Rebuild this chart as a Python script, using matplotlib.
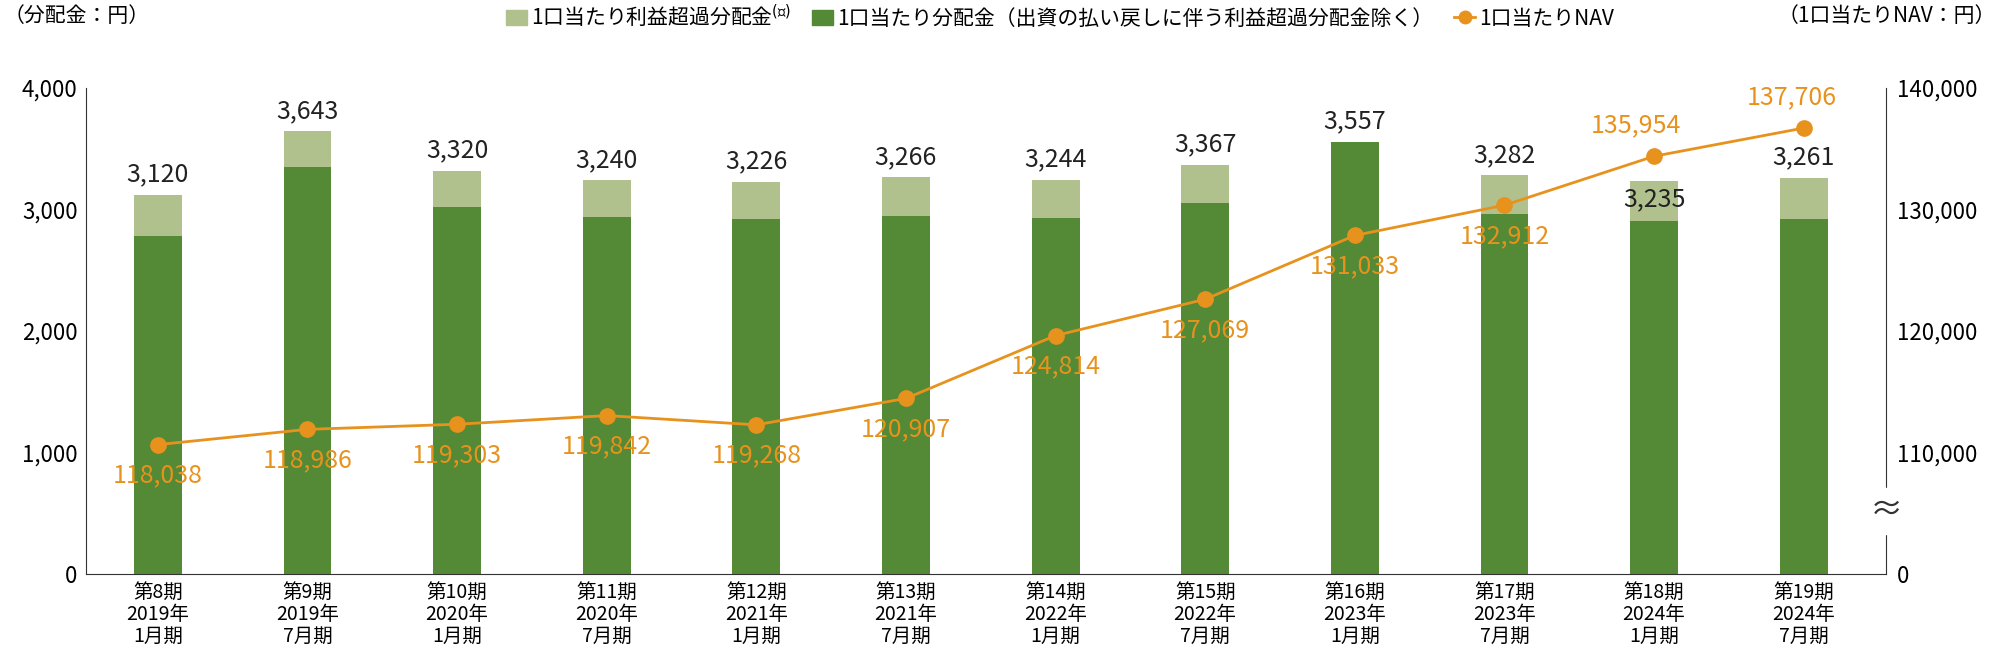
import matplotlib
matplotlib.use("Agg")
import matplotlib.pyplot as plt
from matplotlib.lines import Line2D
from matplotlib.patches import Patch

plt.rcParams["font.family"] = ["Noto Sans CJK JP"]

categories = ["第8期\n2019年\n1月期","第9期\n2019年\n7月期","第10期\n2020年\n1月期","第11期\n2020年\n7月期",
              "第12期\n2021年\n1月期","第13期\n2021年\n7月期","第14期\n2022年\n1月期","第15期\n2022年\n7月期",
              "第16期\n2023年\n1月期","第17期\n2023年\n7月期","第18期\n2024年\n1月期","第19期\n2024年\n7月期"]
total_dist = [3120,3643,3320,3240,3226,3266,3244,3367,3557,3282,3235,3261]
base_dist = [2782,3349,3024,2940,2919,2950,2929,3055,3557,2961,2908,2919]
nav = [118038,118986,119303,119842,119268,120907,124814,127069,131033,132912,135954,137706]
right_tick_labels = ["0","110,000","120,000","130,000","140,000"]

DARK = "#548A36"; LIGHT = "#B1C18E"; ORANGE = "#E8921E"

fig = plt.figure(figsize=(20, 6.56), dpi=100)
ax = fig.add_axes([0.043, 0.125, 0.9, 0.741])
x = list(range(len(categories)))
excess = [t - b for t, b in zip(total_dist, base_dist)]
ax.bar(x, base_dist, width=0.32, color=DARK, zorder=2)
ax.bar(x, excess, bottom=base_dist, width=0.32, color=LIGHT, zorder=2)
ax.set_xlim(-0.48, 11.55)
ax.set_ylim(0, 4000)
ax.set_yticks([0,1000,2000,3000,4000])
ax.set_yticklabels(["0","1,000","2,000","3,000","4,000"], fontsize=16)
ax.set_xticks(x)
ax.set_xticklabels(categories, fontsize=14, linespacing=1.05)
ax.tick_params(length=0, pad=6)
for s in ["top","right"]:
    ax.spines[s].set_visible(False)
ax.spines["left"].set_color("#333333"); ax.spines["bottom"].set_color("#333333")

lo, hi = 110000, 140200
ax2 = ax.twinx()
ax2.set_ylim(lo, hi)
ax2.set_yticks([lo + f * (hi - lo) for f in (0, 0.25, 0.5, 0.75, 1.0)])
ax2.set_yticklabels(right_tick_labels, fontsize=16)
ax2.tick_params(length=0, pad=8)
for s in ["top","left","bottom"]:
    ax2.spines[s].set_visible(False)
ax2.spines["right"].set_color("#333333")
ax2.plot(x, nav, color=ORANGE, lw=2, marker="o", ms=11, zorder=5)
ax2.text(11.55, lo + 0.13 * (hi - lo), "≈", fontsize=24, ha="center", va="center",
         color="#333333", backgroundcolor="white", zorder=6)

for i, (t, v) in enumerate(zip(total_dist, nav)):
    if i == 10:
        ax.text(i, t - 260, f"{t:,}", ha="center", va="bottom", fontsize=18, color="#222222", zorder=7)
    else:
        ax.text(i, t + 60, f"{t:,}", ha="center", va="bottom", fontsize=18, color="#222222", zorder=7)
    if i >= 10:
        ax2.text(i - 0.12 if i == 10 else i - 0.08, v + 1100, f"{v:,}", ha="center", va="bottom", fontsize=18, color=ORANGE, zorder=7)
    else:
        ax2.text(i, v - 1100, f"{v:,}", ha="center", va="top", fontsize=18, color=ORANGE, zorder=7)

fig.text(0.002, 0.975, "（分配金：円）", fontsize=15, va="center")
fig.text(0.998, 0.975, "（1口当たりNAV：円）", fontsize=15, va="center", ha="right")
handles = [Patch(color=LIGHT), Patch(color=DARK),
           Line2D([0],[0], color=ORANGE, lw=2, marker="o", ms=9)]
labels = ["1口当たり利益超過分配金$^{(注)}$", "1口当たり分配金（出資の払い戻しに伴う利益超過分配金除く）", "1口当たりNAV"]
fig.legend(handles, labels, loc="center", bbox_to_anchor=(0.53, 0.975), ncol=3, frameon=False,
           fontsize=15, handlelength=1.0, handletextpad=0.2, columnspacing=1.0)
fig.savefig("out.png", dpi=100)
